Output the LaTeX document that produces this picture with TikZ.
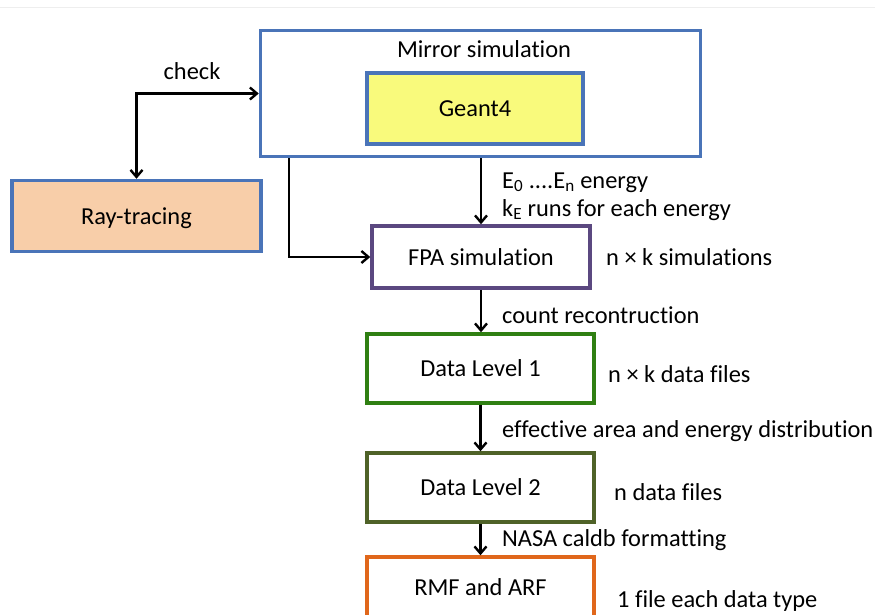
\documentclass[tikz,border=0pt]{standalone}
\usepackage{fontspec}
\setmainfont{Carlito}[Ligatures=NoCommon]
\usetikzlibrary{arrows.meta}
\definecolor{bblue}{HTML}{4A74B8}
\definecolor{gyellow}{HTML}{F9FA7C}
\definecolor{rpeach}{HTML}{F8CEA9}
\definecolor{fpurple}{HTML}{5B4880}
\definecolor{dgreen}{HTML}{2F7F12}
\definecolor{dolive}{HTML}{4F6228}
\definecolor{rorange}{HTML}{E0671B}
\definecolor{toprule}{HTML}{EEEEEE}
\begin{document}
\begin{tikzpicture}[x=1pt,y=-1pt,
  every node/.style={font=\fontsize{24.4}{29}\selectfont, text=black},
  box/.style={draw, line width=3.5pt, inner sep=0pt, text height=16pt, text depth=0pt},
  lbl/.style={anchor=base west, inner sep=0pt},
  tip/.style={},
  arr/.style={line width=2.4pt, -{Straight Barb[length=7pt,width=12pt,line width=2.4pt]}},
  darr/.style={line width=2.4pt, {Straight Barb[length=7pt,width=12pt,line width=2.4pt]}-{Straight Barb[length=7pt,width=12pt,line width=2.4pt]}}
]
\useasboundingbox[fill=white] (0,0) rectangle (875,614);
\draw[toprule, line width=1pt] (0,7) -- (875,7);

% boxes
\node[box, draw=bblue, minimum width=440pt, minimum height=126pt] (mirror) at (480.5,93.5) {};
\node[anchor=base, inner sep=0pt] (mtitle) at (484,57) {Mirror simulation};
\node[box, draw=bblue, fill=gyellow, minimum width=216pt, minimum height=71pt] (geant) at (475,108.5) {Geant4};
\node[box, draw=bblue, fill=rpeach, minimum width=249pt, minimum height=71pt] (ray) at (136.5,216) {Ray-tracing};
\node[box, draw=fpurple, minimum width=218pt, minimum height=62pt] (fpa) at (481,257) {FPA simulation};
\node[box, draw=dgreen, minimum width=227pt, minimum height=69pt] (dl1) at (480.5,368.5) {Data Level 1};
\node[box, draw=dolive, minimum width=227pt, minimum height=69pt] (dl2) at (480.5,487.5) {Data Level 2};
\node[box, draw=rorange, minimum width=227pt, minimum height=60pt] (rmf) at (480.5,587) {RMF and ARF};

% connectors
\draw[darr] (ray.north) |- (mirror.west);
\node[anchor=base, inner sep=0pt] (check) at (192,79) {check};
\draw[arr] ([xshift=30pt]mirror.south west) |- (fpa.west);
\draw[arr] (mirror.south -| fpa.north) -- (fpa.north);
\draw[arr] (fpa.south) -- (fpa.south |- dl1.north);
\draw[arr] (dl1.south) -- (dl2.north);
\draw[arr] (dl2.south) -- (rmf.north);

% labels
\node[lbl] (le) at (502,188) {E\textsubscript{0} ....E\textsubscript{n} energy};
\node[lbl] (lk) at (502,216) {k\textsubscript{E} runs for each energy};
\node[lbl] (lnk) at (606,265) {n × k simulations};
\node[lbl] (lcount) at (502,323) {count recontruction};
\node[lbl] (lnkd) at (608,382) {n × k data files};
\node[lbl] (leff) at (502,437) {effective area and energy distribution};
\node[lbl] (lnd) at (614,500) {n data files};
\node[lbl] (lnasa) at (502,546) {NASA caldb formatting};
\node[lbl] (lone) at (617,607) {1 file each data type};
\end{tikzpicture}
\end{document}
